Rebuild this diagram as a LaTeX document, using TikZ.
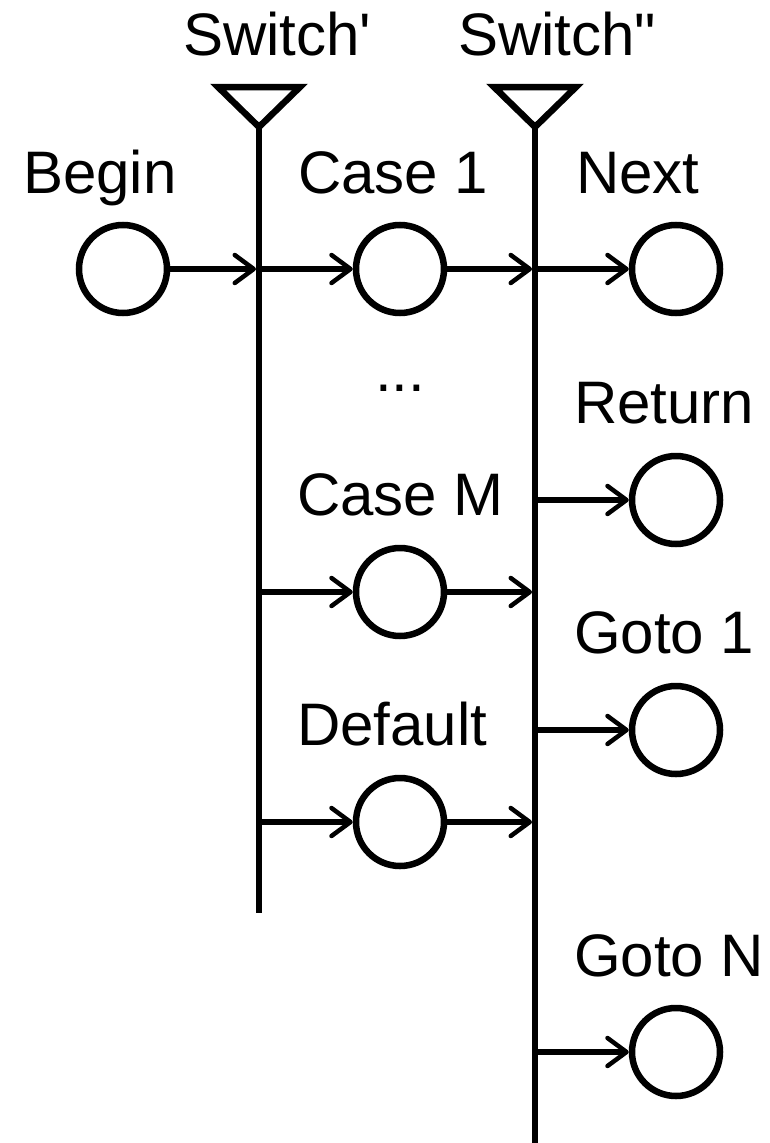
\documentclass[tikz,border=0pt]{standalone}
\usepackage{fontspec}
\setmainfont{Liberation Sans}[Ligatures=TeXOff]
\usetikzlibrary{arrows.meta}
\begin{document}
\begin{tikzpicture}[x=1pt,y=-1pt,line width=6.5pt,
  state/.style={draw,circle,minimum size=88pt,inner sep=0pt,line width=6.5pt},
  lab/.style={anchor=base west,inner sep=0pt,font=\fontsize{60}{60}\selectfont},
  arr/.style={-{Straight Barb[length=19pt,width=28pt,line width=4.5pt,round]},line width=6.5pt},
  arrbar/.style={arr,shorten >=3pt},
  bar/.style={line width=6.5pt},
  tri/.style={line width=6.5pt,line join=miter}
]
\useasboundingbox (0,0) rectangle (769,1143);

% switch bars
\coordinate (t1l) at (218,87);
\coordinate (t1r) at (300,87);
\coordinate (t1b) at (259,127);
\coordinate (s1end) at (259,913);
\coordinate (t2l) at (494,87);
\coordinate (t2r) at (576,87);
\coordinate (t2b) at (535,127);
\coordinate (s2end) at (535,1150);
\draw[tri] (t1l) -- (t1r) -- (t1b) -- cycle;
\draw[tri] (t2l) -- (t2r) -- (t2b) -- cycle;
\draw[bar] (t1b) -- (s1end);
\draw[bar] (t2b) -- (s2end);

% labels
\node[lab] (lsw1) at (180,55) {Switch'};
\node[lab] (lsw2) at (455,55) {Switch"};
\node[lab] (lbegin) at (20,193) {Begin};
\node[lab] (lcase1) at (295,193) {Case 1};
\node[lab] (lnext) at (573,193) {Next};
\node[lab] (ldots) at (372,391) {...};
\node[lab] (lreturn) at (571,423) {Return};
\node[lab] (lcasem) at (294,515) {Case M};
\node[lab] (lgoto1) at (571,653) {Goto 1};
\node[lab] (ldefault) at (294,745) {Default};
\node[lab] (lgoton) at (571,976) {Goto N};

% states
\node[state] (begin) at (123,269) {};
\node[state] (case1) at (400,269) {};
\node[state] (next) at (676,269) {};
\node[state] (return) at (676,500) {};
\node[state] (casem) at (400,592) {};
\node[state] (goto1) at (676,730) {};
\node[state] (default) at (400,822) {};
\node[state] (goton) at (676,1052) {};

% junctions on bars
\coordinate (a1) at (259,269);
\coordinate (a2) at (535,269);
\coordinate (b2) at (535,500);
\coordinate (c1) at (259,592);
\coordinate (c2) at (535,592);
\coordinate (d2) at (535,730);
\coordinate (e1) at (259,822);
\coordinate (e2) at (535,822);
\coordinate (f2) at (535,1052);

% connectors
\draw[arrbar] (begin) -- (a1);
\draw[arr] (a1) -- (case1);
\draw[arrbar] (case1) -- (a2);
\draw[arr] (a2) -- (next);
\draw[arr] (b2) -- (return);
\draw[arr] (c1) -- (casem);
\draw[arrbar] (casem) -- (c2);
\draw[arr] (d2) -- (goto1);
\draw[arr] (e1) -- (default);
\draw[arrbar] (default) -- (e2);
\draw[arr] (f2) -- (goton);
\end{tikzpicture}
\end{document}
